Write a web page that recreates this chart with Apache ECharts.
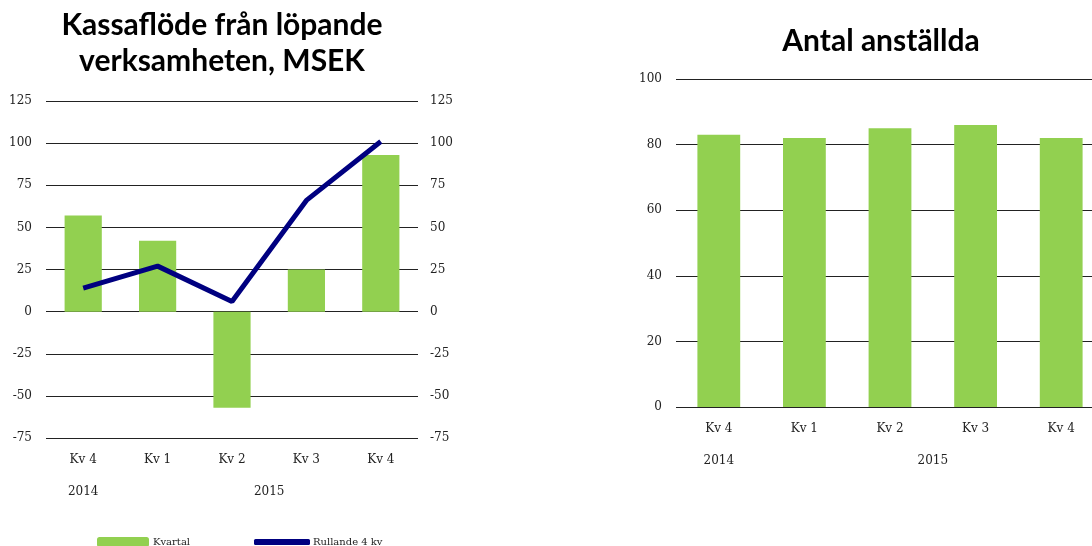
<!DOCTYPE html>
<html>
<head>
<meta charset="utf-8">
<script src="https://cdn.jsdelivr.net/npm/echarts@6/dist/echarts.min.js"></script>
<style>
html, body { margin: 0; padding: 0; background: #fff; }
#chart { width: 1092px; height: 546px; }
</style>
</head>
<body>
<div id="chart"></div>
<script>
// kategorier och data
var quarters = ['Kv 4', 'Kv 1', 'Kv 2', 'Kv 3', 'Kv 4']
var yearLabels = { 0.5: '2014', 3: '2015' }
var kvartal = [57, 42, -57, 25, 93]
var rullande = [14, 27, 6, 66, 101]
var anstallda = [83, 82, 85, 86, 82]

var serif = 'DejaVu Serif'
var green = '#92D050'
var navy = '#000080'

var chart = echarts.init(document.getElementById('chart'))

function yearAxis (gridIndex, offset) {
  return {
    gridIndex: gridIndex,
    type: 'value',
    position: 'bottom',
    min: 0,
    max: 5,
    interval: 0.5,
    offset: offset,
    axisLine: { show: false },
    axisTick: { show: false },
    splitLine: { show: false },
    axisLabel: {
      fontFamily: serif,
      fontSize: 12,
      color: '#222',
      showMinLabel: true,
      showMaxLabel: true,
      formatter: function (v) { return yearLabels[v] || '' }
    }
  }
}

var valueLabel = { fontFamily: serif, fontSize: 12, color: '#222' }

var option = {
  animation: false,
  title: [
    {
      text: 'Kassaflöde från löpande\nverksamheten, MSEK',
      left: 217,
      top: 2,
      textAlign: 'center',
      textStyle: { fontFamily: 'Lato', fontWeight: 'bold', fontSize: 30, lineHeight: 36, color: '#000' }
    },
    {
      text: 'Antal anställda',
      left: 876,
      top: 21,
      textAlign: 'center',
      textStyle: { fontFamily: 'Lato', fontWeight: 'bold', fontSize: 30, color: '#000' }
    }
  ],
  legend: [
    {
      data: ['Kvartal'],
      left: 97,
      top: 537,
      padding: 0,
      itemWidth: 52,
      itemHeight: 10,
      itemGap: 0,
      textStyle: { fontFamily: serif, fontSize: 10, color: '#222', padding: [0, 0, 0, -1] }
    },
    {
      data: [{ name: 'Rullande 4 kv', icon: 'roundRect' }],
      left: 254,
      top: 537,
      padding: 0,
      itemWidth: 56,
      itemHeight: 6,
      itemStyle: { color: navy },
      textStyle: { fontFamily: serif, fontSize: 10, color: '#222', padding: [0, 0, 0, -2] }
    }
  ],
  grid: [
    { left: 46, top: 101, width: 372, height: 337, outerBoundsMode: 'none' },
    { left: 676, top: 79, width: 428, height: 328, outerBoundsMode: 'none' }
  ],
  xAxis: [
    {
      gridIndex: 0,
      type: 'category',
      data: quarters,
      axisLine: { show: false },
      axisTick: { show: false },
      axisLabel: { fontFamily: serif, fontSize: 12, color: '#222', margin: 16 }
    },
    yearAxis(0, 40),
    {
      gridIndex: 1,
      type: 'category',
      data: quarters,
      axisLine: { show: false },
      axisTick: { show: false },
      axisLabel: { fontFamily: serif, fontSize: 12, color: '#222', margin: 16 }
    },
    yearAxis(1, 40)
  ],
  yAxis: [
    {
      gridIndex: 0,
      type: 'value',
      min: -75,
      max: 125,
      interval: 25,
      axisLine: { show: false },
      axisTick: { show: false },
      axisLabel: Object.assign({ margin: 14 }, valueLabel),
      splitLine: { lineStyle: { color: '#222', width: 1 } }
    },
    {
      gridIndex: 0,
      type: 'value',
      position: 'right',
      min: -75,
      max: 125,
      interval: 25,
      axisLine: { show: false },
      axisTick: { show: false },
      axisLabel: Object.assign({ margin: 12, align: 'left' }, valueLabel),
      splitLine: { show: false }
    },
    {
      gridIndex: 1,
      type: 'value',
      min: 0,
      max: 100,
      interval: 20,
      axisLine: { show: false },
      axisTick: { show: false },
      axisLabel: Object.assign({ margin: 14 }, valueLabel),
      splitLine: { lineStyle: { color: '#222', width: 1 } }
    }
  ],
  series: [
    {
      name: 'Kvartal',
      type: 'bar',
      xAxisIndex: 0,
      yAxisIndex: 0,
      data: kvartal,
      barWidth: '50%',
      itemStyle: { color: green }
    },
    {
      name: 'Rullande 4 kv',
      type: 'line',
      xAxisIndex: 0,
      yAxisIndex: 0,
      data: rullande,
      symbol: 'none',
      lineStyle: { color: navy, width: 5 },
      itemStyle: { color: navy },
      z: 5
    },
    {
      name: 'Antal',
      type: 'bar',
      xAxisIndex: 2,
      yAxisIndex: 2,
      data: anstallda,
      barWidth: '50%',
      itemStyle: { color: green }
    }
  ]
}

chart.setOption(option)
</script>
</body>
</html>
